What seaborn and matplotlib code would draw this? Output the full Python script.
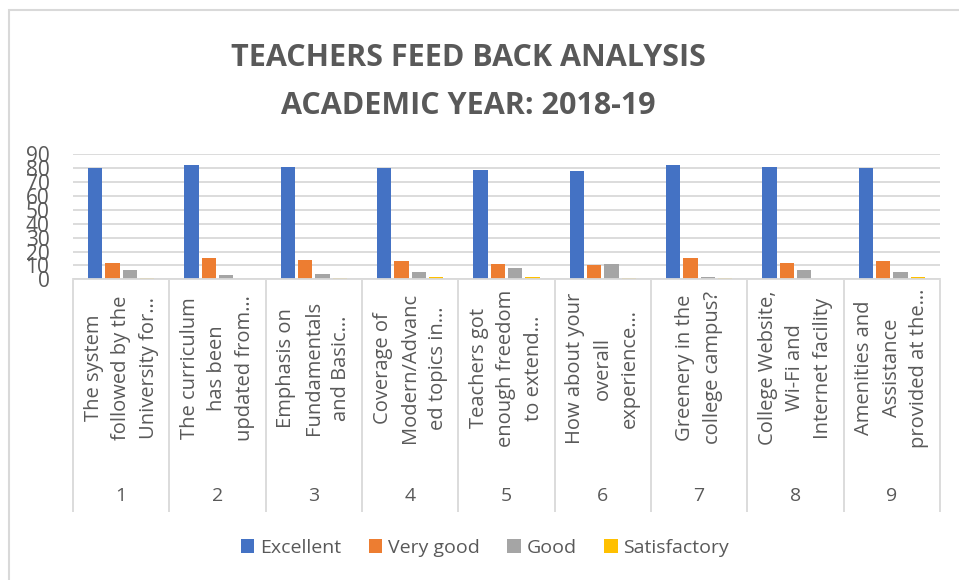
import pandas as pd
import matplotlib.pyplot as plt
import matplotlib.patches as mpatches
from matplotlib.transforms import blended_transform_factory
import seaborn as sns

# data
questions = ['1', '2', '3', '4', '5', '6', '7', '8', '9']
question_text = [
    'The system\nfollowed by the\nUniversity for…',
    'The curriculum\nhas been\nupdated from…',
    'Emphasis on\nFundamentals\nand Basic…',
    'Coverage of\nModern/Advanc\ned topics in…',
    'Teachers got\nenough freedom\nto extend…',
    'How about your\noverall\nexperience…',
    'Greenery in the\ncollege campus?',
    'College Website,\nWi-Fi and\nInternet facility',
    'Amenities and\nAssistance\nprovided at the…',
]
ratings = ['Excellent', 'Very good', 'Good', 'Satisfactory']
excellent = [80, 82, 81, 80, 79, 78, 82, 81, 80]
very_good = [12, 15, 14, 13, 11, 10, 15, 12, 13]
good = [7, 3, 4, 5, 8, 11, 2, 7, 5]
satisfactory = [1, 0, 1, 2, 2, 1, 1, 0, 2]

colors = ['#4472C4', '#ED7D31', '#A5A5A5', '#FFC000']
text_color = '#595959'
grid_color = '#D9D9D9'

rows = []
for rating, vals in zip(ratings, [excellent, very_good, good, satisfactory]):
    for q, v in zip(questions, vals):
        rows.append({'question': q, 'rating': rating, 'count': v})
df = pd.DataFrame(rows)

sns.set_style('white')
plt.rcParams['font.family'] = ['Open Sans', 'DejaVu Sans']

fig = plt.figure(figsize=(9.59, 5.80), dpi=100)
ax = fig.add_axes([73 / 959, 1 - 279.3 / 580, 867 / 959, 125 / 580])

sns.barplot(data=df, x='question', y='count', hue='rating', hue_order=ratings,
            palette=colors, width=0.72, gap=0.18, ax=ax, saturation=1,
            linewidth=0)

ax.set_ylim(0, 90)
ax.set_xlim(-0.5, len(questions) - 0.5)
ax.set_yticks(range(0, 91, 10))
ax.yaxis.grid(True, color=grid_color, linewidth=1.3)
ax.set_axisbelow(True)
for side in ['top', 'right', 'left']:
    ax.spines[side].set_visible(False)
ax.spines['bottom'].set_color(grid_color)
ax.spines['bottom'].set_linewidth(1.3)
ax.tick_params(axis='y', length=0, pad=17, labelsize=15, labelcolor=text_color)
ax.set_xticklabels([])
ax.tick_params(axis='x', length=0)
ax.set_xlabel('')
ax.set_ylabel('')

# two-row category axis: question text + number
trans = blended_transform_factory(ax.transData, fig.transFigure)
xs = ax.get_xticks()
for x, q, txt in zip(xs, questions, question_text):
    ax.text(x, 1 - 368 / 580, txt, transform=trans, rotation=90,
            ha='center', va='center', multialignment='center',
            fontsize=14.5, color=text_color, linespacing=1.5, clip_on=False)
    ax.text(x, 1 - 496 / 580, q, transform=trans, ha='center', va='center',
            fontsize=14, color=text_color, clip_on=False)
ax.vlines([x - 0.5 for x in xs] + [xs[-1] + 0.5], 1 - 512 / 580, 1 - 280 / 580,
          transform=trans, colors=grid_color, linewidth=1.3, clip_on=False)

fig.text(468 / 959, 1 - 58 / 580, 'TEACHERS FEED BACK ANALYSIS', ha='center',
         va='center', fontsize=22, fontweight='bold', color=text_color)
fig.text(468 / 959, 1 - 106 / 580, 'ACADEMIC YEAR: 2018-19', ha='center',
         va='center', fontsize=22, fontweight='bold', color=text_color)

handles, labels = ax.get_legend_handles_labels()
ax.get_legend().remove()
fig.legend(handles, labels, loc='center', bbox_to_anchor=(485 / 959, 1 - 548 / 580),
           ncol=4, frameon=False, fontsize=14, handlelength=0.7, handleheight=0.7,
           handletextpad=0.3, columnspacing=1.4, labelcolor=text_color)

fig.patches.append(mpatches.Rectangle((9 / 959, -0.05), 1.0, 1 - 10 / 580 + 0.05,
                                      transform=fig.transFigure, fill=False,
                                      edgecolor=grid_color, linewidth=1.5))

fig.savefig('out.png', dpi=100)
